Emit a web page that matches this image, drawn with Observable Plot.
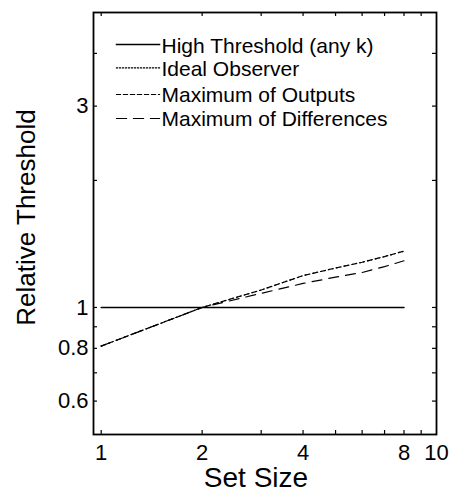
<!DOCTYPE html>
<html><head><meta charset="utf-8">
<script src="https://cdn.jsdelivr.net/npm/d3@7"></script>
<script src="https://cdn.jsdelivr.net/npm/@observablehq/plot@0.6"></script>
<style>body{margin:0;background:#fff;} #chart svg{display:block;}</style>
</head><body><div id="chart"></div>
<script>
// ---- data ----
const setSizes = [1, 2, 3, 4, 5, 6, 7, 8];
const highThreshold = [1, 1, 1, 1, 1, 1, 1, 1];
const idealObserver = [0.81, 1.0, 1.10, 1.19, 1.24, 1.28, 1.32, 1.36];
const maxOutputs = [0.81, 1.0, 1.10, 1.19, 1.24, 1.28, 1.32, 1.36];
const maxDifferences = [0.81, 1.0, 1.08, 1.14, 1.18, 1.21, 1.25, 1.29];
const seriesNames = ["High Threshold (any k)", "Ideal Observer", "Maximum of Outputs", "Maximum of Differences"];
const xTickLabels = [1, 2, 4, 8, 10];
const yTickLabels = [0.6, 0.8, 1, 3];
const xMinorTicks = [1, 2, 3, 4, 5, 6, 7, 8, 9];
const yMinorTicks = [0.6, 0.7, 0.8, 0.9, 1, 2, 3, 4];

// ---- styles ----
const dashes = [null, "1,3", "4,4", "10,7"];
const legendDashes = [null, "1,2", "4,3", "10,7"];
const seriesValues = [highThreshold, idealObserver, maxOutputs, maxDifferences];

const W = 449, H = 499, mL = 93, mR = 13, mT = 12, mB = 65;
const fw = W - mL - mR, fh = H - mT - mB;
const tickLen = 4;

const lineMarks = seriesValues.map((vals, i) =>
  Plot.line(setSizes.map((x, j) => ({x, y: vals[j]})), {
    x: "x", y: "y", stroke: "#000", strokeWidth: i === 0 ? 1.5 : 1.2,
    strokeDasharray: dashes[i]
  })
);

const legendLineTop = [32, 55.3, 82, 106];
const legendTextTop = [34, 57, 83, 107];
const legendMarks = seriesNames.flatMap((name, i) => [
  Plot.frame({anchor: "top", insetTop: legendLineTop[i], insetLeft: 23, insetRight: 277,
    stroke: "#000", strokeWidth: i === 0 ? 1.5 : 1.2, strokeDasharray: legendDashes[i]}),
  Plot.text([name], {text: d => d, frameAnchor: "top-left", dx: 68, dy: legendTextTop[i],
    textAnchor: "start", lineAnchor: "middle", fontSize: 21})
]);

const chart = Plot.plot({
  width: W, height: H,
  marginLeft: mL, marginRight: mR, marginTop: mT, marginBottom: mB,
  style: {fontFamily: "'Liberation Sans', Arial, Helvetica, sans-serif", fontSize: "20px", color: "#000", background: "#fff"},
  x: {type: "log", domain: [0.9485, 10], axis: null},
  y: {type: "log", domain: [0.5, 5], axis: null},
  marks: [
    ...lineMarks,
    Plot.tickX(xMinorTicks, {x: d => d, insetTop: fh - tickLen, strokeWidth: 1.2}),
    Plot.tickX(xMinorTicks, {x: d => d, insetBottom: fh - tickLen, strokeWidth: 1.2}),
    Plot.tickY(yMinorTicks, {y: d => d, insetRight: fw - tickLen, strokeWidth: 1.2}),
    Plot.tickY(yMinorTicks, {y: d => d, insetLeft: fw - tickLen, strokeWidth: 1.2}),
    Plot.text(xTickLabels, {x: d => d, text: d => String(d), frameAnchor: "bottom", dy: 10,
      lineAnchor: "top", textAnchor: "middle", fontSize: 22}),
    Plot.text(yTickLabels, {y: d => d, text: d => String(d), frameAnchor: "left", dx: -5,
      lineAnchor: "middle", textAnchor: "end", fontSize: 22}),
    Plot.frame({stroke: "#000", strokeWidth: 1.8}),
    Plot.text(["Set Size"], {text: d => d, frameAnchor: "bottom", dx: -9, dy: 33,
      lineAnchor: "top", textAnchor: "middle", fontSize: 28}),
    Plot.text(["Relative Threshold"], {text: d => d, frameAnchor: "left", dx: -67, dy: -6,
      rotate: -90, textAnchor: "middle", lineAnchor: "middle", fontSize: 26}),
    ...legendMarks
  ]
});
document.getElementById("chart").append(chart);
</script>
</body></html>
